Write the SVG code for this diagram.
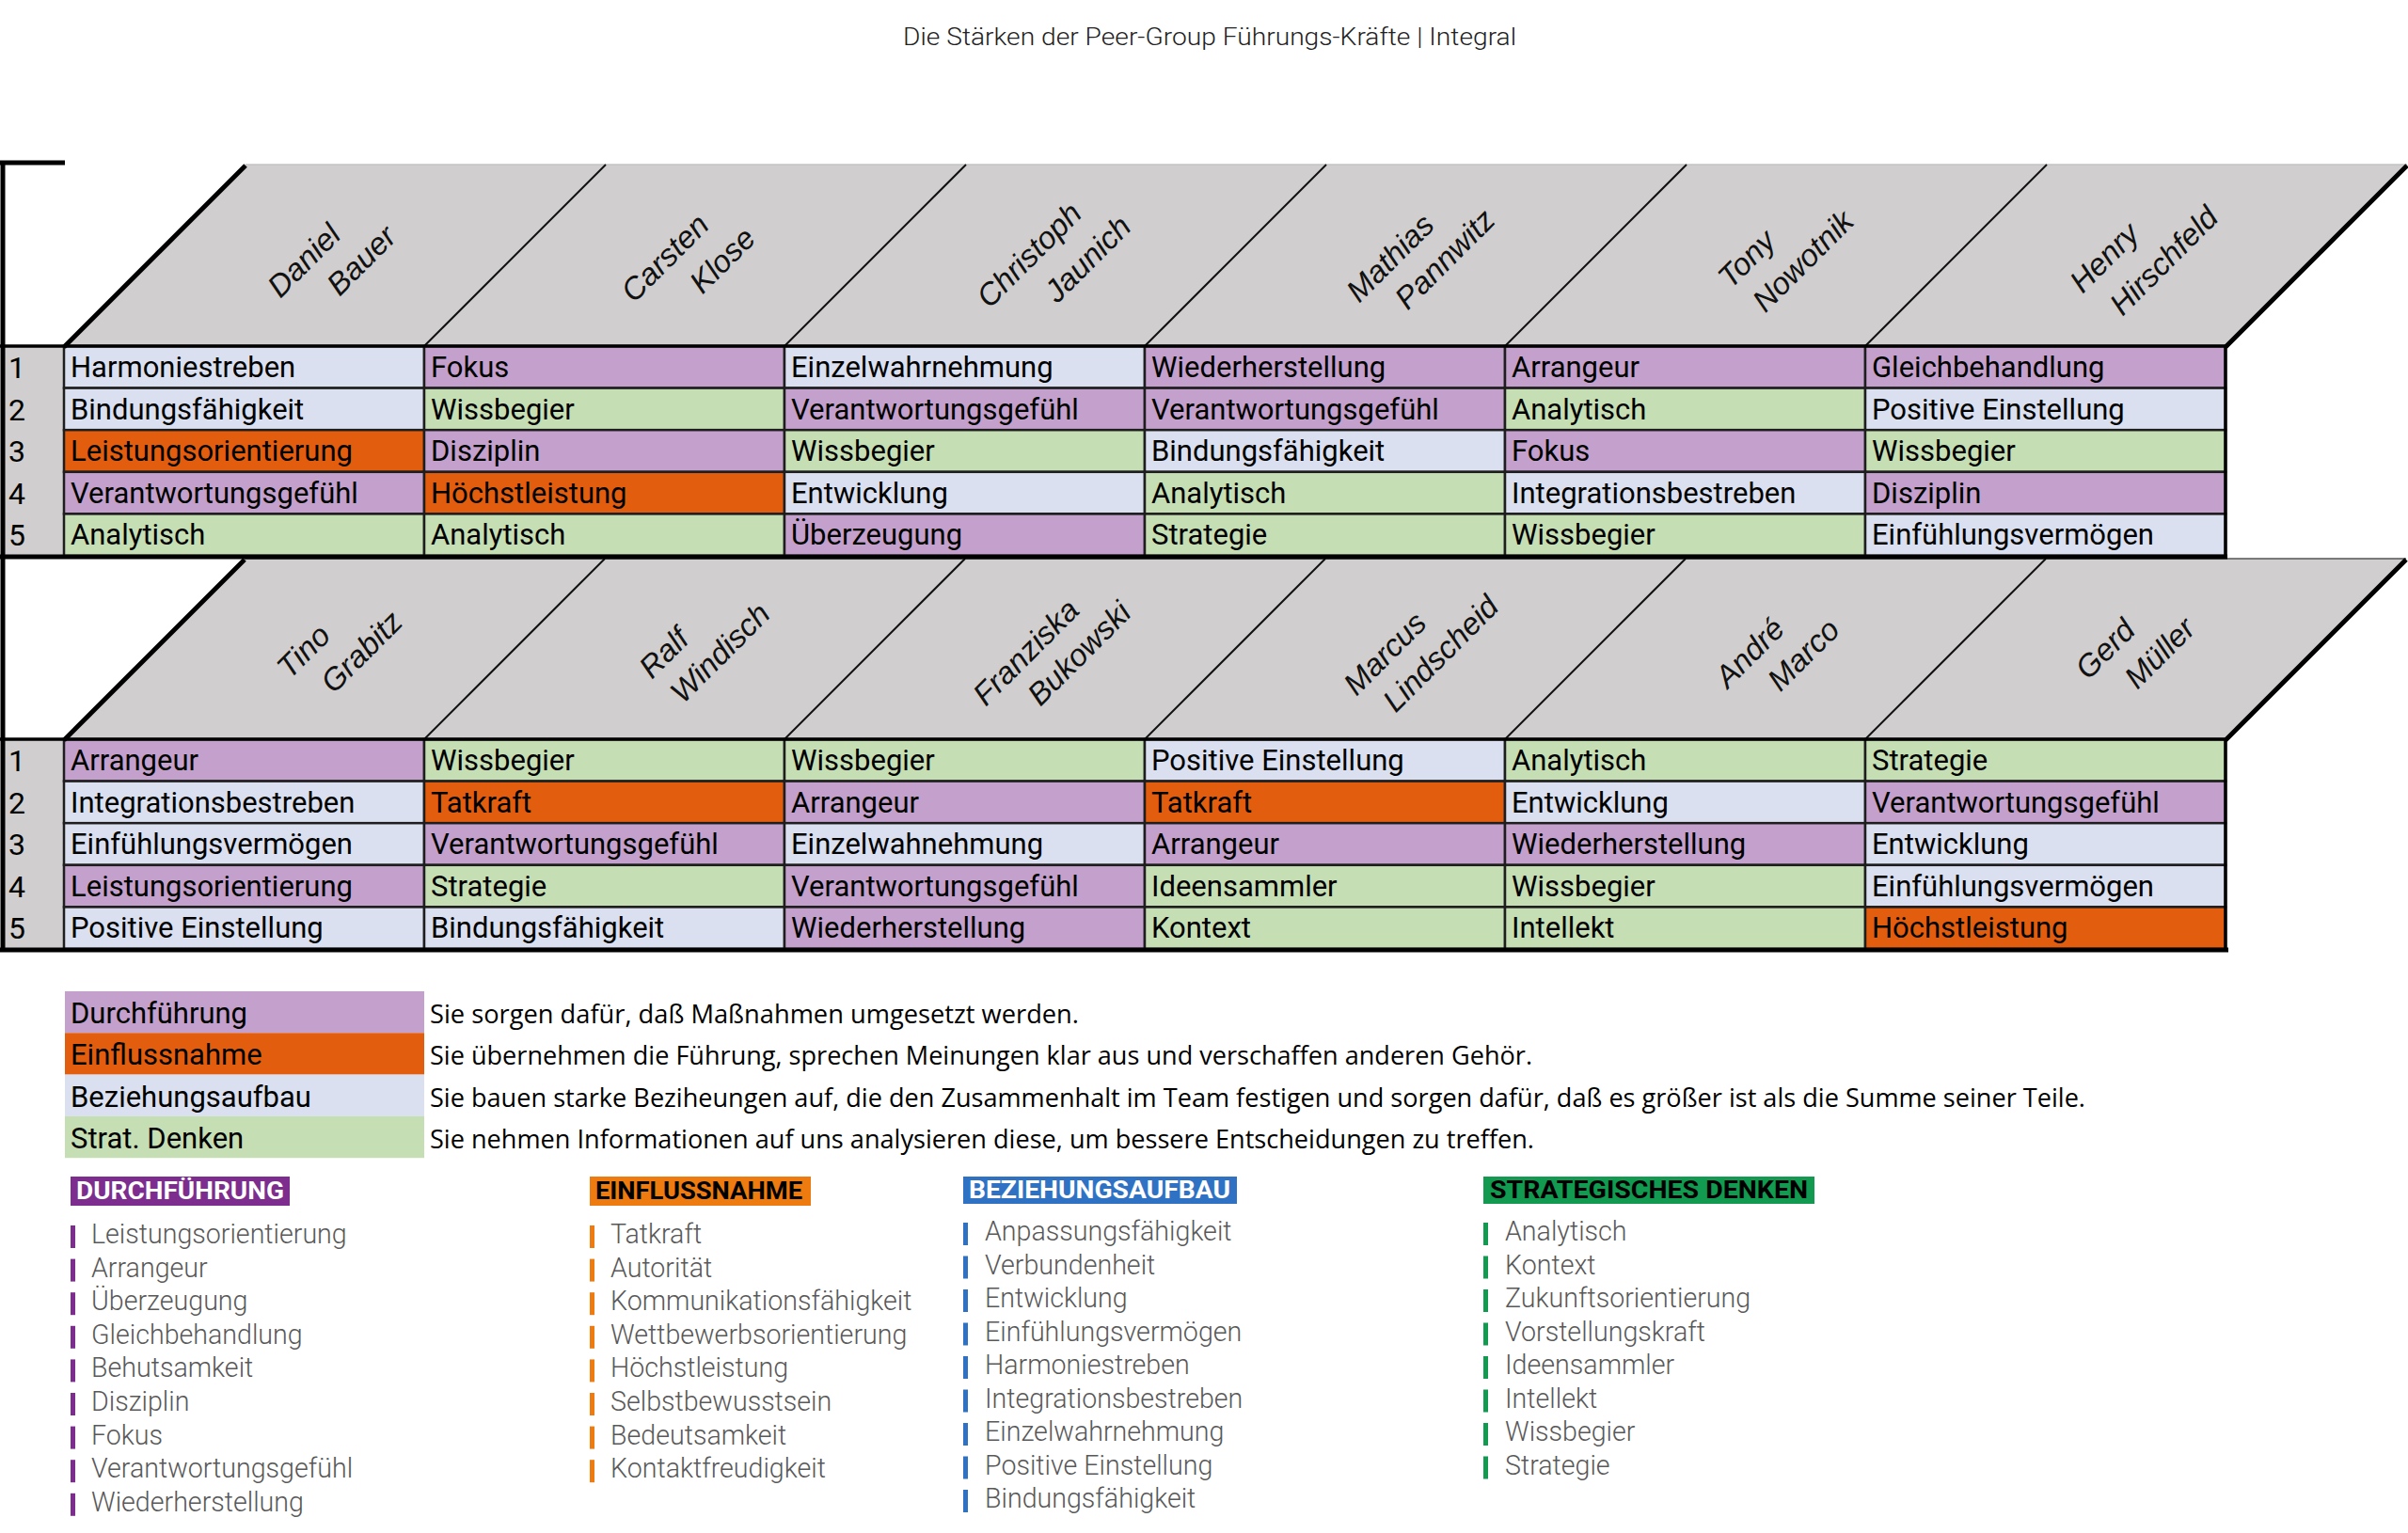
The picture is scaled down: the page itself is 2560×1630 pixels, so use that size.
<svg xmlns="http://www.w3.org/2000/svg" width="2560" height="1630" viewBox="0 0 2560 1630">
<style>
.hd{fill:#d0cece}
.p{fill:#c4a0cc}.o{fill:#e35d0e}.b{fill:#dae0f0}.g{fill:#c6deb4}
.cell{stroke:#1e1e1e;stroke-width:2.5}
.ct{font-family:Roboto,"Liberation Sans",sans-serif;font-size:31px;fill:#000}
.num{font-family:Roboto,"Liberation Sans",sans-serif;font-size:32px;fill:#000}
.nm{font-family:"Liberation Sans",Arial,sans-serif;font-style:italic;font-size:33px;fill:#111}
.thin{stroke:#111;stroke-width:2;fill:none}
.thick{stroke:#000;stroke-width:5;fill:none}
.mid{stroke:#000;stroke-width:3.5;fill:none}
.desc{font-family:"Open Sans","Noto Sans",sans-serif;font-size:28px;fill:#000}
.li{font-family:Roboto,"Liberation Sans",sans-serif;font-weight:300;font-size:28.6px;fill:#595959}
.bd{font-family:Roboto,"Liberation Sans",sans-serif;font-weight:700;font-size:25px}
.title{font-family:Roboto,"Liberation Sans",sans-serif;font-weight:300;font-size:26px;fill:#222}
</style>
<rect width="2560" height="1630" fill="#fff"/>
<g id="title"><text class="title" x="1286" y="48" text-anchor="middle" textLength="652" lengthAdjust="spacingAndGlyphs">Die Stärken der Peer-Group Führungs-Kräfte | Integral</text></g>

<!-- TABLE 1 -->
<g id="table1-header">
<polygon class="hd" points="68,368 261,175 2559,175 2366,368"/>
<line x1="261" y1="175" x2="2559" y2="175" stroke="#c4c2c2" stroke-width="1.5"/>
<rect class="hd" x="3" y="368" width="65" height="223"/>
</g>
<g id="t1-names">
<g id="n-daniel" transform="translate(298,318) rotate(-45)"><text class="nm" x="0" y="0">Daniel</text><text class="nm" x="46" y="43">Bauer</text></g>
<g id="n-carsten" transform="translate(674,323) rotate(-45)"><text class="nm" x="0" y="0">Carsten</text><text class="nm" x="58" y="45">Klose</text></g>
<g id="n-christoph" transform="translate(1052,329) rotate(-45)"><text class="nm" x="0" y="0">Christoph</text><text class="nm" x="55" y="47">Jaunich</text></g>
<g id="n-mathias" transform="translate(1445,323) rotate(-45)"><text class="nm" x="0" y="0">Mathias</text><text class="nm" x="31" y="42">Pannwitz</text></g>
<g id="n-tony" transform="translate(1840,308) rotate(-45)"><text class="nm" x="0" y="0">Tony</text><text class="nm" x="8" y="44">Nowotnik</text></g>
<g id="n-henry" transform="translate(2214,313) rotate(-45)"><text class="nm" x="0" y="0">Henry</text><text class="nm" x="13" y="47">Hirschfeld</text></g>
</g>
<g id="t1-cells">
<g id="t1r1c1"><rect class="cell b" x="68" y="368" width="383" height="44.6"/><text class="ct" x="75" y="401">Harmoniestreben</text></g>
<g id="t1r1c2"><rect class="cell p" x="451" y="368" width="383" height="44.6"/><text class="ct" x="458" y="401">Fokus</text></g>
<g id="t1r1c3"><rect class="cell b" x="834" y="368" width="383" height="44.6"/><text class="ct" x="841" y="401">Einzelwahrnehmung</text></g>
<g id="t1r1c4"><rect class="cell p" x="1217" y="368" width="383" height="44.6"/><text class="ct" x="1224" y="401">Wiederherstellung</text></g>
<g id="t1r1c5"><rect class="cell p" x="1600" y="368" width="383" height="44.6"/><text class="ct" x="1607" y="401">Arrangeur</text></g>
<g id="t1r1c6"><rect class="cell p" x="1983" y="368" width="383" height="44.6"/><text class="ct" x="1990" y="401">Gleichbehandlung</text></g>

<g id="t1r2c1"><rect class="cell b" x="68" y="412.6" width="383" height="44.6"/><text class="ct" x="75" y="445.6">Bindungsfähigkeit</text></g>
<g id="t1r2c2"><rect class="cell g" x="451" y="412.6" width="383" height="44.6"/><text class="ct" x="458" y="445.6">Wissbegier</text></g>
<g id="t1r2c3"><rect class="cell p" x="834" y="412.6" width="383" height="44.6"/><text class="ct" x="841" y="445.6">Verantwortungsgefühl</text></g>
<g id="t1r2c4"><rect class="cell p" x="1217" y="412.6" width="383" height="44.6"/><text class="ct" x="1224" y="445.6">Verantwortungsgefühl</text></g>
<g id="t1r2c5"><rect class="cell g" x="1600" y="412.6" width="383" height="44.6"/><text class="ct" x="1607" y="445.6">Analytisch</text></g>
<g id="t1r2c6"><rect class="cell b" x="1983" y="412.6" width="383" height="44.6"/><text class="ct" x="1990" y="445.6">Positive Einstellung</text></g>

<g id="t1r3c1"><rect class="cell o" x="68" y="457.2" width="383" height="44.6"/><text class="ct" x="75" y="490.2">Leistungsorientierung</text></g>
<g id="t1r3c2"><rect class="cell p" x="451" y="457.2" width="383" height="44.6"/><text class="ct" x="458" y="490.2">Disziplin</text></g>
<g id="t1r3c3"><rect class="cell g" x="834" y="457.2" width="383" height="44.6"/><text class="ct" x="841" y="490.2">Wissbegier</text></g>
<g id="t1r3c4"><rect class="cell b" x="1217" y="457.2" width="383" height="44.6"/><text class="ct" x="1224" y="490.2">Bindungsfähigkeit</text></g>
<g id="t1r3c5"><rect class="cell p" x="1600" y="457.2" width="383" height="44.6"/><text class="ct" x="1607" y="490.2">Fokus</text></g>
<g id="t1r3c6"><rect class="cell g" x="1983" y="457.2" width="383" height="44.6"/><text class="ct" x="1990" y="490.2">Wissbegier</text></g>

<g id="t1r4c1"><rect class="cell p" x="68" y="501.8" width="383" height="44.6"/><text class="ct" x="75" y="534.8">Verantwortungsgefühl</text></g>
<g id="t1r4c2"><rect class="cell o" x="451" y="501.8" width="383" height="44.6"/><text class="ct" x="458" y="534.8">Höchstleistung</text></g>
<g id="t1r4c3"><rect class="cell b" x="834" y="501.8" width="383" height="44.6"/><text class="ct" x="841" y="534.8">Entwicklung</text></g>
<g id="t1r4c4"><rect class="cell g" x="1217" y="501.8" width="383" height="44.6"/><text class="ct" x="1224" y="534.8">Analytisch</text></g>
<g id="t1r4c5"><rect class="cell b" x="1600" y="501.8" width="383" height="44.6"/><text class="ct" x="1607" y="534.8">Integrationsbestreben</text></g>
<g id="t1r4c6"><rect class="cell p" x="1983" y="501.8" width="383" height="44.6"/><text class="ct" x="1990" y="534.8">Disziplin</text></g>

<g id="t1r5c1"><rect class="cell g" x="68" y="546.4" width="383" height="44.6"/><text class="ct" x="75" y="579.4">Analytisch</text></g>
<g id="t1r5c2"><rect class="cell g" x="451" y="546.4" width="383" height="44.6"/><text class="ct" x="458" y="579.4">Analytisch</text></g>
<g id="t1r5c3"><rect class="cell p" x="834" y="546.4" width="383" height="44.6"/><text class="ct" x="841" y="579.4">Überzeugung</text></g>
<g id="t1r5c4"><rect class="cell g" x="1217" y="546.4" width="383" height="44.6"/><text class="ct" x="1224" y="579.4">Strategie</text></g>
<g id="t1r5c5"><rect class="cell g" x="1600" y="546.4" width="383" height="44.6"/><text class="ct" x="1607" y="579.4">Wissbegier</text></g>
<g id="t1r5c6"><rect class="cell b" x="1983" y="546.4" width="383" height="44.6"/><text class="ct" x="1990" y="579.4">Einfühlungsvermögen</text></g>
</g>
<g id="t1-numbers">
<text class="num" x="9" y="402">1</text><text class="num" x="9" y="446.6">2</text><text class="num" x="9" y="491.2">3</text><text class="num" x="9" y="535.8">4</text><text class="num" x="9" y="580.4">5</text>
</g>

<!-- TABLE 2 -->
<g id="table2-header">
<polygon class="hd" points="68,786 260,594 2558,594 2366,786"/>
<line x1="260" y1="594" x2="2558" y2="594" stroke="#555" stroke-width="1.5"/>
<rect class="hd" x="3" y="786" width="65" height="223"/>
</g>
<g id="t2-names">
<g id="n-tino" transform="translate(308,723) rotate(-45)"><text class="nm" x="0" y="0">Tino</text><text class="nm" x="22" y="44">Grabitz</text></g>
<g id="n-ralf" transform="translate(693,723) rotate(-45)"><text class="nm" x="0" y="0">Ralf</text><text class="nm" x="5" y="42">Windisch</text></g>
<g id="n-franziska" transform="translate(1048,752) rotate(-45)"><text class="nm" x="0" y="0">Franziska</text><text class="nm" x="41" y="41">Bukowski</text></g>
<g id="n-marcus" transform="translate(1442,741) rotate(-45)"><text class="nm" x="0" y="0">Marcus</text><text class="nm" x="17" y="42">Lindscheid</text></g>
<g id="n-andre" transform="translate(1837,733) rotate(-45)"><text class="nm" x="0" y="0">André</text><text class="nm" x="37" y="42">Marco</text></g>
<g id="n-gerd" transform="translate(2220,724) rotate(-45)"><text class="nm" x="0" y="0">Gerd</text><text class="nm" x="30" y="44">Müller</text></g>
</g>
<g id="t2-cells">
<g id="t2r1c1"><rect class="cell p" x="68" y="786" width="383" height="44.6"/><text class="ct" x="75" y="819">Arrangeur</text></g>
<g id="t2r1c2"><rect class="cell g" x="451" y="786" width="383" height="44.6"/><text class="ct" x="458" y="819">Wissbegier</text></g>
<g id="t2r1c3"><rect class="cell g" x="834" y="786" width="383" height="44.6"/><text class="ct" x="841" y="819">Wissbegier</text></g>
<g id="t2r1c4"><rect class="cell b" x="1217" y="786" width="383" height="44.6"/><text class="ct" x="1224" y="819">Positive Einstellung</text></g>
<g id="t2r1c5"><rect class="cell g" x="1600" y="786" width="383" height="44.6"/><text class="ct" x="1607" y="819">Analytisch</text></g>
<g id="t2r1c6"><rect class="cell g" x="1983" y="786" width="383" height="44.6"/><text class="ct" x="1990" y="819">Strategie</text></g>

<g id="t2r2c1"><rect class="cell b" x="68" y="830.6" width="383" height="44.6"/><text class="ct" x="75" y="863.6">Integrationsbestreben</text></g>
<g id="t2r2c2"><rect class="cell o" x="451" y="830.6" width="383" height="44.6"/><text class="ct" x="458" y="863.6">Tatkraft</text></g>
<g id="t2r2c3"><rect class="cell p" x="834" y="830.6" width="383" height="44.6"/><text class="ct" x="841" y="863.6">Arrangeur</text></g>
<g id="t2r2c4"><rect class="cell o" x="1217" y="830.6" width="383" height="44.6"/><text class="ct" x="1224" y="863.6">Tatkraft</text></g>
<g id="t2r2c5"><rect class="cell b" x="1600" y="830.6" width="383" height="44.6"/><text class="ct" x="1607" y="863.6">Entwicklung</text></g>
<g id="t2r2c6"><rect class="cell p" x="1983" y="830.6" width="383" height="44.6"/><text class="ct" x="1990" y="863.6">Verantwortungsgefühl</text></g>

<g id="t2r3c1"><rect class="cell b" x="68" y="875.2" width="383" height="44.6"/><text class="ct" x="75" y="908.2">Einfühlungsvermögen</text></g>
<g id="t2r3c2"><rect class="cell p" x="451" y="875.2" width="383" height="44.6"/><text class="ct" x="458" y="908.2">Verantwortungsgefühl</text></g>
<g id="t2r3c3"><rect class="cell b" x="834" y="875.2" width="383" height="44.6"/><text class="ct" x="841" y="908.2">Einzelwahnehmung</text></g>
<g id="t2r3c4"><rect class="cell p" x="1217" y="875.2" width="383" height="44.6"/><text class="ct" x="1224" y="908.2">Arrangeur</text></g>
<g id="t2r3c5"><rect class="cell p" x="1600" y="875.2" width="383" height="44.6"/><text class="ct" x="1607" y="908.2">Wiederherstellung</text></g>
<g id="t2r3c6"><rect class="cell b" x="1983" y="875.2" width="383" height="44.6"/><text class="ct" x="1990" y="908.2">Entwicklung</text></g>

<g id="t2r4c1"><rect class="cell p" x="68" y="919.8" width="383" height="44.6"/><text class="ct" x="75" y="952.8">Leistungsorientierung</text></g>
<g id="t2r4c2"><rect class="cell g" x="451" y="919.8" width="383" height="44.6"/><text class="ct" x="458" y="952.8">Strategie</text></g>
<g id="t2r4c3"><rect class="cell p" x="834" y="919.8" width="383" height="44.6"/><text class="ct" x="841" y="952.8">Verantwortungsgefühl</text></g>
<g id="t2r4c4"><rect class="cell g" x="1217" y="919.8" width="383" height="44.6"/><text class="ct" x="1224" y="952.8">Ideensammler</text></g>
<g id="t2r4c5"><rect class="cell g" x="1600" y="919.8" width="383" height="44.6"/><text class="ct" x="1607" y="952.8">Wissbegier</text></g>
<g id="t2r4c6"><rect class="cell b" x="1983" y="919.8" width="383" height="44.6"/><text class="ct" x="1990" y="952.8">Einfühlungsvermögen</text></g>

<g id="t2r5c1"><rect class="cell b" x="68" y="964.4" width="383" height="44.6"/><text class="ct" x="75" y="997.4">Positive Einstellung</text></g>
<g id="t2r5c2"><rect class="cell b" x="451" y="964.4" width="383" height="44.6"/><text class="ct" x="458" y="997.4">Bindungsfähigkeit</text></g>
<g id="t2r5c3"><rect class="cell p" x="834" y="964.4" width="383" height="44.6"/><text class="ct" x="841" y="997.4">Wiederherstellung</text></g>
<g id="t2r5c4"><rect class="cell g" x="1217" y="964.4" width="383" height="44.6"/><text class="ct" x="1224" y="997.4">Kontext</text></g>
<g id="t2r5c5"><rect class="cell g" x="1600" y="964.4" width="383" height="44.6"/><text class="ct" x="1607" y="997.4">Intellekt</text></g>
<g id="t2r5c6"><rect class="cell o" x="1983" y="964.4" width="383" height="44.6"/><text class="ct" x="1990" y="997.4">Höchstleistung</text></g>
</g>
<g id="t2-numbers">
<text class="num" x="9" y="820">1</text><text class="num" x="9" y="864.6">2</text><text class="num" x="9" y="909.2">3</text><text class="num" x="9" y="953.8">4</text><text class="num" x="9" y="998.4">5</text>
</g>

<!-- table lines -->
<g id="connectors">
<line class="thin" x1="451" y1="368" x2="644" y2="175"/>
<line class="thin" x1="834" y1="368" x2="1027" y2="175"/>
<line class="thin" x1="1217" y1="368" x2="1410" y2="175"/>
<line class="thin" x1="1600" y1="368" x2="1793" y2="175"/>
<line class="thin" x1="1983" y1="368" x2="2176" y2="175"/>
<line class="thick" x1="68" y1="369" x2="261" y2="176"/>
<line class="thick" x1="2366" y1="369" x2="2559" y2="176"/>
<line class="thick" x1="0" y1="173" x2="69" y2="173"/>
<line class="mid" x1="0" y1="368" x2="2368" y2="368"/>
<line class="mid" x1="2366" y1="368" x2="2366" y2="593"/>

<line class="thin" x1="451" y1="786" x2="643" y2="594"/>
<line class="thin" x1="834" y1="786" x2="1026" y2="594"/>
<line class="thin" x1="1217" y1="786" x2="1409" y2="594"/>
<line class="thin" x1="1600" y1="786" x2="1792" y2="594"/>
<line class="thin" x1="1983" y1="786" x2="2175" y2="594"/>
<line class="thick" x1="68" y1="787" x2="260" y2="595"/>
<line class="thick" x1="2366" y1="787" x2="2558" y2="595"/>
<line class="mid" x1="0" y1="786" x2="2368" y2="786"/>
<line class="mid" x1="2366" y1="786" x2="2366" y2="1011"/>

<line class="thick" x1="0" y1="592" x2="2368" y2="592"/>
<line class="thick" x1="0" y1="1010" x2="2369" y2="1010"/>
<line class="thick" x1="3" y1="171" x2="3" y2="1012"/>
</g>

<!-- legend -->
<g id="legend-durchfuehrung"><rect class="p" x="69" y="1054" width="382" height="44.3"/><text class="ct" x="75" y="1088">Durchführung</text><text class="desc" x="457" y="1088" textLength="690" lengthAdjust="spacingAndGlyphs">Sie sorgen dafür, daß Maßnahmen umgesetzt werden.</text></g>
<g id="legend-einflussnahme"><rect class="o" x="69" y="1098.3" width="382" height="44.3"/><text class="ct" x="75" y="1132">Einflussnahme</text><text class="desc" x="457" y="1132" textLength="1172" lengthAdjust="spacingAndGlyphs">Sie übernehmen die Führung, sprechen Meinungen klar aus und verschaffen anderen Gehör.</text></g>
<g id="legend-beziehungsaufbau"><rect class="b" x="69" y="1142.6" width="382" height="44.3"/><text class="ct" x="75" y="1177">Beziehungsaufbau</text><text class="desc" x="457" y="1177" textLength="1760" lengthAdjust="spacingAndGlyphs">Sie bauen starke Beziheungen auf, die den Zusammenhalt im Team festigen und sorgen dafür, daß es größer ist als die Summe seiner Teile.</text></g>
<g id="legend-strat"><rect class="g" x="69" y="1186.9" width="382" height="44.3"/><text class="ct" x="75" y="1221">Strat. Denken</text><text class="desc" x="457" y="1221" textLength="1174" lengthAdjust="spacingAndGlyphs">Sie nehmen Informationen auf uns analysieren diese, um bessere Entscheidungen zu treffen.</text></g>

<!-- category lists -->
<g id="list-durchfuehrung">
<rect x="75" y="1251" width="233" height="31" fill="#7c2d8e"/>
<text class="bd" x="81" y="1275" fill="#fff" textLength="221" lengthAdjust="spacingAndGlyphs">DURCHFÜHRUNG</text>
<g fill="#7c2d8e"><rect x="75" y="1303" width="5" height="24"/><rect x="75" y="1338.6" width="5" height="24"/><rect x="75" y="1374.2" width="5" height="24"/><rect x="75" y="1409.8" width="5" height="24"/><rect x="75" y="1445.4" width="5" height="24"/><rect x="75" y="1481" width="5" height="24"/><rect x="75" y="1516.6" width="5" height="24"/><rect x="75" y="1552.2" width="5" height="24"/><rect x="75" y="1587.8" width="5" height="24"/></g>
<text class="li" x="97" y="1322">Leistungsorientierung</text>
<text class="li" x="97" y="1357.6">Arrangeur</text>
<text class="li" x="97" y="1393.2">Überzeugung</text>
<text class="li" x="97" y="1428.8">Gleichbehandlung</text>
<text class="li" x="97" y="1464.4">Behutsamkeit</text>
<text class="li" x="97" y="1500">Disziplin</text>
<text class="li" x="97" y="1535.6">Fokus</text>
<text class="li" x="97" y="1571.2">Verantwortungsgefühl</text>
<text class="li" x="97" y="1606.8">Wiederherstellung</text>
</g>
<g id="list-einflussnahme">
<rect x="627" y="1251" width="235" height="31" fill="#ee7b10"/>
<text class="bd" x="633" y="1275" fill="#000" textLength="220" lengthAdjust="spacingAndGlyphs">EINFLUSSNAHME</text>
<g fill="#ee7b10"><rect x="627" y="1303" width="5" height="24"/><rect x="627" y="1338.6" width="5" height="24"/><rect x="627" y="1374.2" width="5" height="24"/><rect x="627" y="1409.8" width="5" height="24"/><rect x="627" y="1445.4" width="5" height="24"/><rect x="627" y="1481" width="5" height="24"/><rect x="627" y="1516.6" width="5" height="24"/><rect x="627" y="1552.2" width="5" height="24"/></g>
<text class="li" x="649" y="1322">Tatkraft</text>
<text class="li" x="649" y="1357.6">Autorität</text>
<text class="li" x="649" y="1393.2">Kommunikationsfähigkeit</text>
<text class="li" x="649" y="1428.8">Wettbewerbsorientierung</text>
<text class="li" x="649" y="1464.4">Höchstleistung</text>
<text class="li" x="649" y="1500">Selbstbewusstsein</text>
<text class="li" x="649" y="1535.6">Bedeutsamkeit</text>
<text class="li" x="649" y="1571.2">Kontaktfreudigkeit</text>
</g>
<g id="list-beziehungsaufbau">
<rect x="1024" y="1251" width="291" height="29" fill="#2f72c4"/>
<text class="bd" x="1030" y="1274" fill="#fff" textLength="278" lengthAdjust="spacingAndGlyphs">BEZIEHUNGSAUFBAU</text>
<g fill="#2f72c4"><rect x="1024" y="1300" width="5" height="24"/><rect x="1024" y="1335.5" width="5" height="24"/><rect x="1024" y="1371" width="5" height="24"/><rect x="1024" y="1406.5" width="5" height="24"/><rect x="1024" y="1442" width="5" height="24"/><rect x="1024" y="1477.5" width="5" height="24"/><rect x="1024" y="1513" width="5" height="24"/><rect x="1024" y="1548.5" width="5" height="24"/><rect x="1024" y="1584" width="5" height="24"/></g>
<text class="li" x="1047" y="1319">Anpassungsfähigkeit</text>
<text class="li" x="1047" y="1354.5">Verbundenheit</text>
<text class="li" x="1047" y="1390">Entwicklung</text>
<text class="li" x="1047" y="1425.5">Einfühlungsvermögen</text>
<text class="li" x="1047" y="1461">Harmoniestreben</text>
<text class="li" x="1047" y="1496.5">Integrationsbestreben</text>
<text class="li" x="1047" y="1532">Einzelwahrnehmung</text>
<text class="li" x="1047" y="1567.5">Positive Einstellung</text>
<text class="li" x="1047" y="1603">Bindungsfähigkeit</text>
</g>
<g id="list-strategisch">
<rect x="1577" y="1251" width="352" height="29" fill="#129a50"/>
<text class="bd" x="1584" y="1274" fill="#000" textLength="338" lengthAdjust="spacingAndGlyphs">STRATEGISCHES DENKEN</text>
<g fill="#129a50"><rect x="1577" y="1300" width="5" height="24"/><rect x="1577" y="1335.5" width="5" height="24"/><rect x="1577" y="1371" width="5" height="24"/><rect x="1577" y="1406.5" width="5" height="24"/><rect x="1577" y="1442" width="5" height="24"/><rect x="1577" y="1477.5" width="5" height="24"/><rect x="1577" y="1513" width="5" height="24"/><rect x="1577" y="1548.5" width="5" height="24"/></g>
<text class="li" x="1600" y="1319">Analytisch</text>
<text class="li" x="1600" y="1354.5">Kontext</text>
<text class="li" x="1600" y="1390">Zukunftsorientierung</text>
<text class="li" x="1600" y="1425.5">Vorstellungskraft</text>
<text class="li" x="1600" y="1461">Ideensammler</text>
<text class="li" x="1600" y="1496.5">Intellekt</text>
<text class="li" x="1600" y="1532">Wissbegier</text>
<text class="li" x="1600" y="1567.5">Strategie</text>
</g>
</svg>
